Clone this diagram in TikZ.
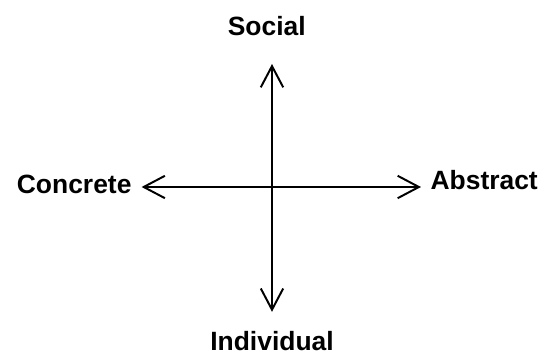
\documentclass[tikz,border=0pt]{standalone}
\usepackage{fontspec}
\setmainfont{Liberation Sans}
\usetikzlibrary{arrows.meta,positioning}

\begin{document}
\begin{tikzpicture}[
  lbl/.style={font=\fontsize{18.8pt}{22pt}\selectfont\bfseries, inner sep=0pt, anchor=base},
  axis/.style={{Straight Barb[length=5.3mm, width=5.6mm]}-{Straight Barb[length=5.3mm, width=5.6mm]},
               line width=1.4pt}
]
\useasboundingbox (-6.8, -4.225) rectangle (6.875, 4.675);

% -- axis ends ---------------------------
\coordinate (top)    at (0, 3.075);
\coordinate (bottom) at (0, -3.12);
\coordinate (left)   at (-3.26, 0);
\coordinate (right)  at (3.725, 0);

% -- labels ------------------------------
\node[lbl] (social)     at (-0.13, 3.775)  {Social};
\node[lbl] (individual) at (0, -4.08)      {Individual};
\node[lbl] (concrete)   at (-4.945, -0.16) {Concrete};
\node[lbl] (abstract)   at (5.305, -0.075) {Abstract};

% -- axes --------------------------------
\draw[axis] (bottom) -- (top);
\draw[axis] (left) -- (right);

\end{tikzpicture}
\end{document}
